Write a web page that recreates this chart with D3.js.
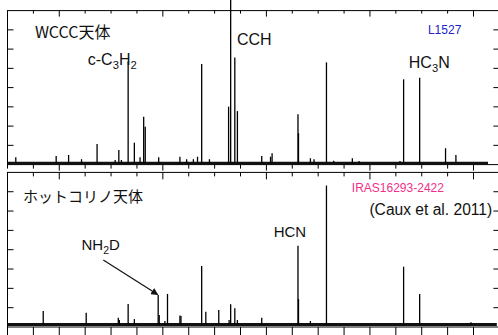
<!DOCTYPE html>
<html>
<head>
<meta charset="utf-8">
<script src="https://cdn.jsdelivr.net/npm/d3@7"></script>
<style>
  html, body { margin: 0; padding: 0; background: #fff; }
  svg { display: block; }
</style>
</head>
<body>
<script>
// frequency axis (GHz)
const freqDomain = [83, 92.5];
const minorStep = 0.5;
const intensityTicks = [0, 1, 2, 3, 4, 5, 6, 7, 8];

// WCCC source L1527: line frequency (GHz) and peak intensity (tick units)
const wcccFreq = [83.16, 83.94, 84.18, 84.43, 84.73, 85.08, 85.15, 85.20, 85.33, 85.45,
  85.56, 85.63, 85.66, 85.92, 86.33, 86.46, 86.59, 86.67, 86.75, 86.90,
  87.27, 87.31, 87.39, 87.44, 87.91, 88.08, 88.11, 88.61, 88.62, 88.85,
  88.92, 89.16, 89.30, 89.66, 89.79, 90.58, 90.65, 90.96, 91.46, 91.66];
const wcccInt = [0.38, 0.45, 0.50, 0.28, 1.07, 0.24, 0.76, 0.24, 5.35, 1.14,
  0.38, 2.49, 1.97, 0.38, 0.41, 0.28, 0.28, 0.41, 5.23, 0.28,
  3.01, 8.6, 5.57, 2.78, 0.45, 0.41, 0.59, 2.61, 1.63, 0.33,
  0.28, 5.31, 0.20, 0.33, 0.19, 0.19, 4.43, 4.51, 0.85, 0.50];
const wcccBase = 0.07;
const wcccBandEnd = 92.28;

// hot corino IRAS16293-2422
const hotFreq = [83.69, 84.52, 85.14, 85.16, 85.33, 85.45, 85.91, 85.93, 86.04, 86.09,
  86.33, 86.35, 86.75, 86.83, 87.08, 87.28, 87.31, 87.39, 87.44, 87.91,
  88.61, 88.62, 88.85, 89.16, 90.65, 90.96, 91.95];
const hotInt = [0.83, 0.74, 0.48, 0.36, 1.19, 0.41, 1.66, 0.62, 0.31, 1.71,
  0.59, 0.57, 3.16, 0.79, 0.88, 0.36, 1.18, 0.97, 0.36, 0.48,
  4.21, 1.45, 0.31, 7.32, 3.12, 1.71, 0.24];
const hotBase = 0.13;
const hotBandEnd = 92.45;

const width = 498, height = 335;
const latin = '"Liberation Sans", Arial, sans-serif';
const cjk = '"Noto Sans CJK JP", "Noto Sans", sans-serif';

const svg = d3.select('body').append('svg')
  .attr('width', width)
  .attr('height', height);

const x = d3.scaleLinear().domain(freqDomain).range([7.5, 499.4]);
const majorTicks = x.ticks(5);
const minorTicks = d3.range(freqDomain[0], freqDomain[1] + 0.001, minorStep)
  .filter(f => !majorTicks.some(m => Math.abs(m - f) < 1e-6));

function drawPanel(top, bottom, freq, inten, base, bandEnd) {
  const y = d3.scaleLinear().domain([0, 8]).range([bottom, top]);
  const g = svg.append('g');

  // frame
  g.append('rect')
    .attr('x', x.range()[0])
    .attr('y', top)
    .attr('width', x.range()[1] - x.range()[0])
    .attr('height', bottom - top)
    .attr('fill', 'none')
    .attr('stroke', '#000')
    .attr('stroke-width', 1);

  // y ticks, inward on both sides
  g.selectAll('.yl').data(intensityTicks.slice(1, -1)).enter().append('line')
    .attr('x1', x.range()[0]).attr('x2', x.range()[0] + 6)
    .attr('y1', d => y(d)).attr('y2', d => y(d))
    .attr('stroke', '#000');
  g.selectAll('.yr').data(intensityTicks.slice(1, -1)).enter().append('line')
    .attr('x1', x.range()[1]).attr('x2', x.range()[1] - 6)
    .attr('y1', d => y(d)).attr('y2', d => y(d))
    .attr('stroke', '#000');

  // baseline noise band
  g.append('line')
    .attr('x1', x(freqDomain[0])).attr('x2', x(bandEnd))
    .attr('y1', y(base)).attr('y2', y(base))
    .attr('stroke', '#111')
    .attr('stroke-width', 3.2);

  // spectral lines
  g.selectAll('.spec').data(freq.map((f, i) => ({ f, v: inten[i] }))).enter().append('line')
    .attr('x1', d => x(d.f)).attr('x2', d => x(d.f))
    .attr('y1', y(base)).attr('y2', d => y(d.v))
    .attr('stroke', '#000')
    .attr('stroke-width', 1.3);

  return y;
}

const yTop = drawPanel(10.6, 164.6, wcccFreq, wcccInt, wcccBase, wcccBandEnd);
const yBot = drawPanel(172.4, 327, hotFreq, hotInt, hotBase, hotBandEnd);

// x ticks: top edge of upper panel (inward)
function xTicks(yPos, dir, minorLen, majorLen) {
  svg.append('g').selectAll('line').data(minorTicks).enter().append('line')
    .attr('x1', d => x(d)).attr('x2', d => x(d))
    .attr('y1', yPos).attr('y2', yPos + dir * minorLen)
    .attr('stroke', '#000');
  svg.append('g').selectAll('line').data(majorTicks).enter().append('line')
    .attr('x1', d => x(d)).attr('x2', d => x(d))
    .attr('y1', yPos).attr('y2', yPos + dir * majorLen)
    .attr('stroke', '#000');
}
xTicks(10.6, 1, 3, 6);
xTicks(164.6, 1, 4, 6);
xTicks(172.4, 1, 4, 7);
xTicks(327, 1, 8, 8);

// text helpers
function label(txt, xx, yy, size, color, family) {
  return svg.append('text')
    .attr('x', xx).attr('y', yy)
    .attr('font-family', family || latin)
    .attr('font-size', size)
    .attr('fill', color || '#111')
    .text(txt);
}
function chem(parts, xx, yy, size) {
  const t = svg.append('text')
    .attr('x', xx).attr('y', yy)
    .attr('font-family', latin)
    .attr('font-size', size)
    .attr('fill', '#111');
  let shifted = false;
  parts.forEach(p => {
    const sub = p.startsWith('_');
    const s = t.append('tspan').text(sub ? p.slice(1) : p);
    if (sub && !shifted) { s.attr('dy', 4).attr('font-size', size * 0.7); shifted = true; }
    else if (sub) { s.attr('font-size', size * 0.7); }
    else if (shifted) { s.attr('dy', -4); shifted = false; }
  });
}

// upper panel labels
label('WCCC天体', x(83.53), yTop(6.6), 16, '#111', cjk);
label('L1527', x(91.12), yTop(6.8), 12, '#2222cc');
chem(['c-C', '_3', 'H', '_2'], x(84.55), yTop(5.18), 16);
chem(['CCH'], x(87.43), yTop(6.2), 16);
chem(['HC', '_3', 'N'], x(90.75), yTop(5.0), 16);

// lower panel labels
label('ホットコリノ天体', x(83.30), yBot(6.45), 15, '#111', cjk);
label('IRAS16293-2422', x(89.65), yBot(7.0), 12, '#f0308a');
label('(Caux et al. 2011)', x(89.99), yBot(5.8), 15.6, '#111');
chem(['HCN'], x(88.14), yBot(4.65), 15);
chem(['NH', '_2', 'D'], x(84.43), yBot(3.99), 15);

// arrow to NH2D
svg.append('defs').append('marker')
  .attr('id', 'arrow')
  .attr('viewBox', '0 0 10 10')
  .attr('refX', 9).attr('refY', 5)
  .attr('markerWidth', 6).attr('markerHeight', 6)
  .attr('orient', 'auto')
  .append('path')
  .attr('d', 'M0,0 L10,5 L0,10 z')
  .attr('fill', '#111');
svg.append('line')
  .attr('x1', x(84.85)).attr('y1', yBot(3.47))
  .attr('x2', x(85.90)).attr('y2', yBot(1.68))
  .attr('stroke', '#111')
  .attr('stroke-width', 1.2)
  .attr('marker-end', 'url(#arrow)');
</script>
</body>
</html>
